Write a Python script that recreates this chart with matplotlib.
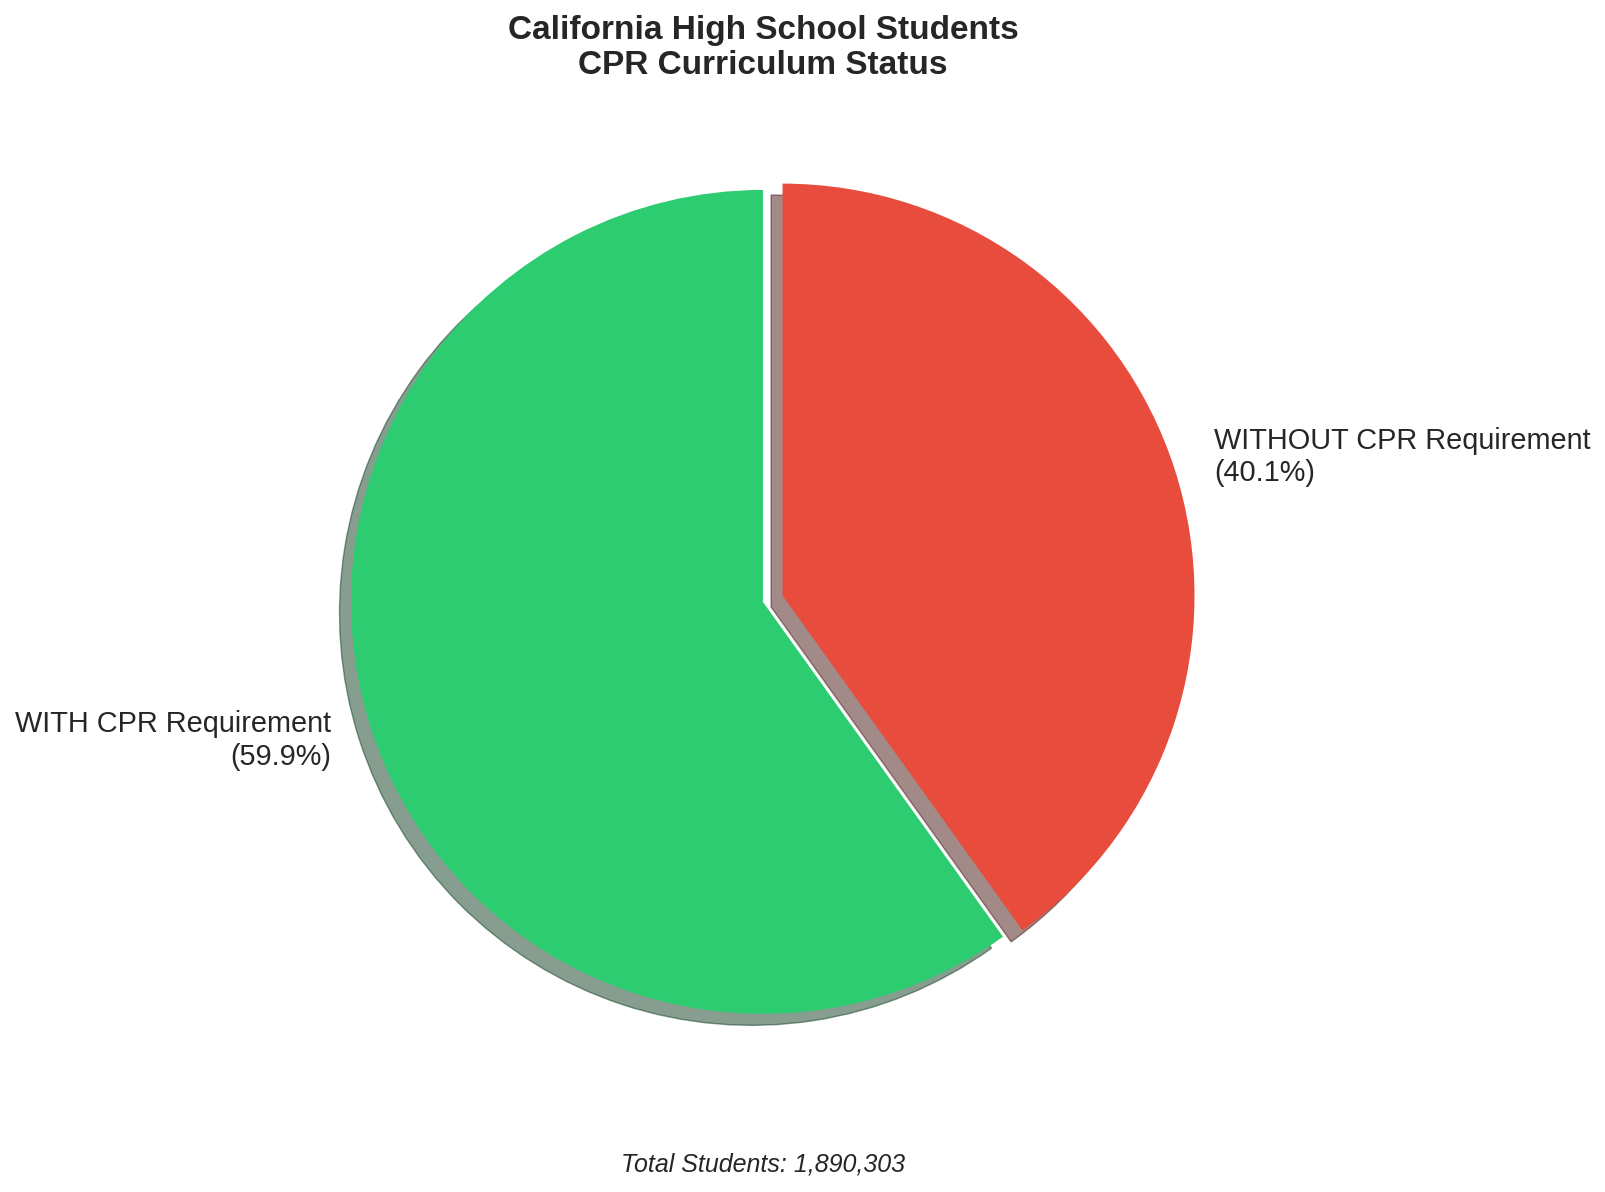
import numpy as np
import matplotlib
matplotlib.use("Agg")
import matplotlib.pyplot as plt

# data
categories = ["WITH CPR Requirement", "WITHOUT CPR Requirement"]
students = [1132291, 758012]
colors = ["#2ecc71", "#e74c3c"]
explode = [0.0, 0.05]

plt.rcParams["font.family"] = ["Liberation Sans", "DejaVu Sans"]
plt.rcParams["text.color"] = "#262626"

total = sum(students)
pct = [100.0 * s / total for s in students]
labels = ["%s\n(%.1f%%)" % (c, p) for c, p in zip(categories, pct)]

fig = plt.figure(figsize=(16.06, 11.92), dpi=100)
ax = fig.add_axes([0.1544, 0.0630, 0.6413, 0.8641])

wedges, texts = ax.pie(students, labels=labels, colors=colors, explode=explode,
                       startangle=90, shadow=True,
                       textprops=dict(fontsize=20.8, color="#262626"))
texts[0].set_horizontalalignment("right")
texts[1].set_horizontalalignment("left")
ax.set_aspect("equal")

ax.set_title("California High School Students\nCPR Curriculum Status",
             fontsize=24, fontweight="bold", pad=9)

fig.text(0.475, 0.023, "Total Students: {:,}".format(total),
         ha="center", va="center", fontsize=18, style="italic")

fig.savefig("out.png", dpi=100)
